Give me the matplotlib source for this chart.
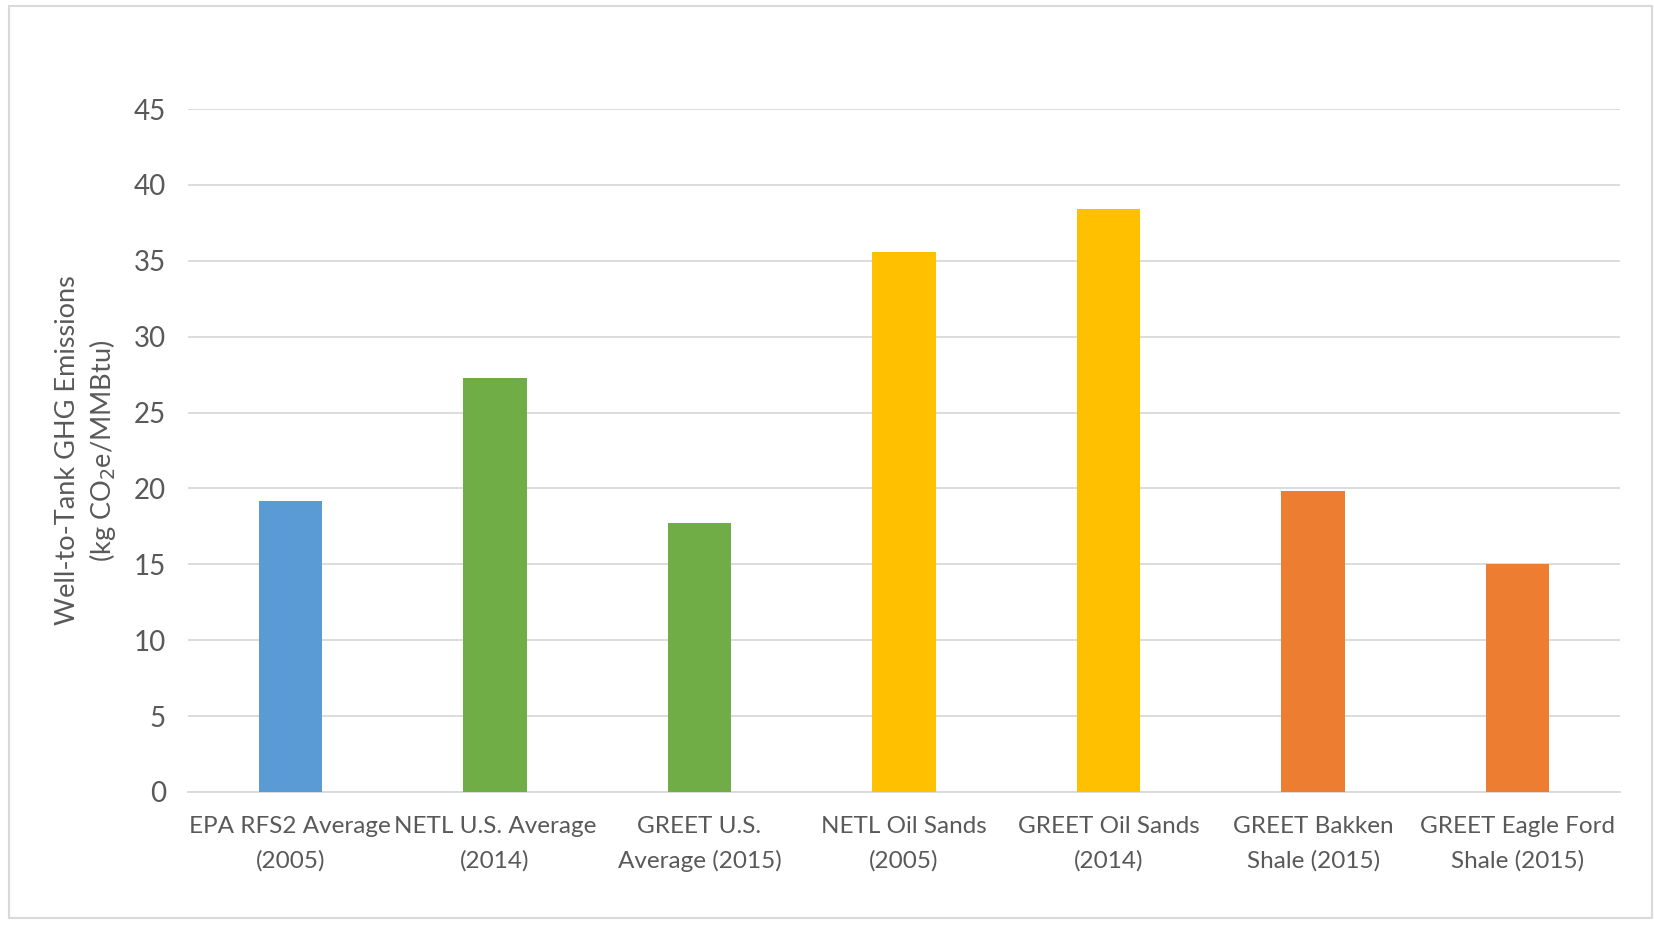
import matplotlib
matplotlib.use("Agg")
import matplotlib.pyplot as plt
from matplotlib.patches import Rectangle

categories = ["EPA RFS2 Average\n(2005)", "NETL U.S. Average\n(2014)", "GREET U.S.\nAverage (2015)",
              "NETL Oil Sands\n(2005)", "GREET Oil Sands\n(2014)", "GREET Bakken\nShale (2015)",
              "GREET Eagle Ford\nShale (2015)"]
values = [19.2, 27.3, 17.7, 35.6, 38.4, 19.8, 15.0]
colors = ["#5B9BD5", "#70AD47", "#70AD47", "#FFC000", "#FFC000", "#ED7D31", "#ED7D31"]
yticks = [0, 5, 10, 15, 20, 25, 30, 35, 40, 45]

plt.rcParams['font.family'] = ['Lato', 'DejaVu Sans']
text_color = "#595959"

W, H = 1654, 925
fig = plt.figure(figsize=(W / 100, H / 100), dpi=100)
ax = fig.add_axes([188 / W, 1 - 792 / H, (1620 - 188) / W, (792 - 109) / H])

x = range(len(categories))
ax.bar(x, values, width=0.31, color=colors, zorder=3)
ax.set_xlim(-0.5, len(categories) - 0.5)
ax.set_ylim(0, 45)
ax.set_yticks(yticks)
ax.set_xticks(list(x))
ax.set_xticklabels(categories, fontsize=17.5, color=text_color, linespacing=1.75)
ax.tick_params(axis='y', labelsize=20, colors=text_color, length=0, pad=16)
ax.tick_params(axis='x', length=0, pad=17)
ax.grid(axis='y', color="#D9D9D9", linewidth=1.3, zorder=0)
for s in ["top", "right", "left"]:
    ax.spines[s].set_visible(False)
ax.spines["bottom"].set_color("#D9D9D9")
ax.spines["bottom"].set_linewidth(1.3)

ax.set_ylabel("Well-to-Tank GHG Emissions\n(kg CO$_2$e/MMBtu)", fontsize=19.5, color=text_color,
              labelpad=11, linespacing=1.3)

fig.patches.append(Rectangle((8.5 / W, 1 - 918 / H), (1652 - 8.5) / W, (918 - 6) / H,
                             transform=fig.transFigure, fill=False, edgecolor="#D9D9D9", linewidth=1.5))

fig.savefig("out.png", dpi=100)
